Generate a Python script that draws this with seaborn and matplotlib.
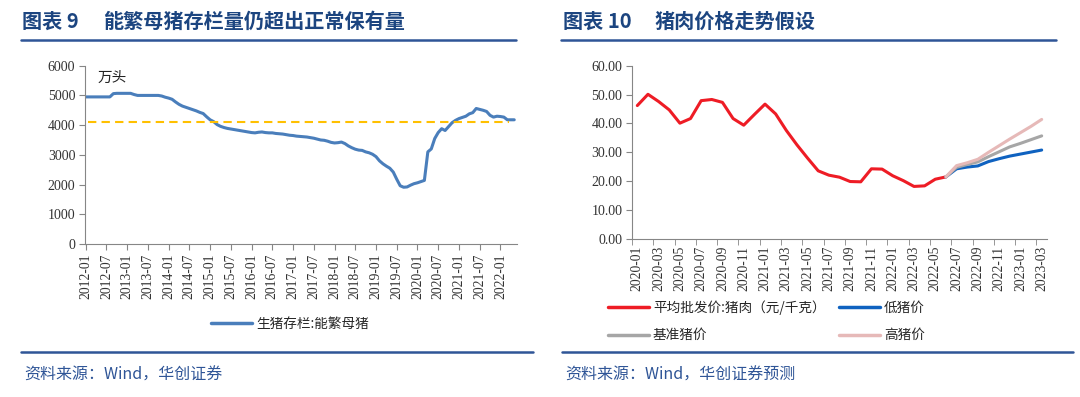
import numpy as np
import pandas as pd
import seaborn as sns
import matplotlib.pyplot as plt
import matplotlib.lines as mlines

# 能繁母猪存栏 (万头), 月度 2012-01 ~ 2022-05
sow_stock = [
    4950, 4950, 4950, 4950, 4950, 4950, 4950, 4950, 5060, 5070, 5070, 5070,
    5070, 5070, 5030, 5000, 5000, 5000, 5000, 5000, 5000, 5000, 4980, 4940,
    4910, 4870, 4780, 4700, 4640, 4600, 4560, 4520, 4480, 4430, 4390, 4280,
    4180, 4120, 4020, 3960, 3920, 3890, 3870, 3850, 3830, 3810, 3790, 3770,
    3750, 3740, 3760, 3770, 3750, 3740, 3740, 3720, 3710, 3700, 3680, 3660,
    3650, 3630, 3620, 3610, 3600, 3580, 3560, 3530, 3500, 3490, 3460, 3420,
    3400, 3410, 3430, 3380, 3300, 3240, 3190, 3160, 3150, 3100, 3070, 3020,
    2940, 2800, 2700, 2620, 2550, 2420, 2180, 1960, 1910, 1920, 1980, 2030,
    2060, 2100, 2140, 3100, 3200, 3550, 3750, 3880, 3820, 3950, 4080, 4160,
    4220, 4260, 4300, 4380, 4420, 4560, 4530, 4500, 4460, 4330, 4270, 4300,
    4290, 4270, 4180, 4180, 4180,
]
normal_level = 4100
sow_months = pd.date_range("2012-01-01", periods=len(sow_stock), freq="MS").strftime("%Y-%m")

# 猪肉价格 (元/千克), 2020-01 ~ 2023-03
price_months = pd.date_range("2020-01-01", "2023-03-01", freq="MS").strftime("%Y-%m")
pork_price = [46.2, 50.1, 47.6, 44.7, 40.1, 41.7, 47.9, 48.3, 47.3, 41.7,
              39.4, 43.1, 46.7, 43.3, 37.6, 32.6, 28.0, 23.6, 22.1, 21.4,
              19.9, 19.8, 24.3, 24.2, 21.9, 20.2, 18.2, 18.4, 20.7, 21.5]
low_price = [21.5, 24.3, 24.9, 25.3, 26.8, 27.8, 28.7, 29.4, 30.1, 30.8]
base_price = [21.5, 24.8, 25.8, 26.7, 28.5, 30.2, 31.9, 33.1, 34.4, 35.7]
high_price = [21.5, 25.4, 26.4, 27.6, 30.0, 32.3, 34.6, 36.8, 39.0, 41.4]

sns.set_style("ticks")
plt.rcParams["font.family"] = ["Noto Sans CJK SC", "DejaVu Sans"]

title_color = "#1c4580"
line_color = "#2f5597"
tick_font = {"family": "Liberation Serif"}

fig = plt.figure(figsize=(10.8, 3.97), dpi=100)
W, H = 1080, 397

# ---------- 左图 ----------
ax1 = fig.add_axes([85 / W, 1 - 244 / H, 432 / W, 178.3 / H])
df1 = pd.DataFrame({"idx": np.arange(len(sow_stock)), "val": sow_stock})
sns.lineplot(data=df1, x="idx", y="val", ax=ax1, color="#4a7ebb", linewidth=2.2)
ax1.plot([0.8, 122.5], [normal_level, normal_level], color="#ffc000",
         linewidth=1.5, linestyle=(0, (4, 2.5)))
ax1.set_xlim(-0.2, 124.8)
ax1.set_ylim(0, 6000)
ax1.set_yticks(range(0, 6001, 1000))
ax1.set_yticklabels([str(v) for v in range(0, 6001, 1000)], **tick_font, fontsize=10)
ticks1 = np.arange(0, len(sow_stock), 6)
ax1.set_xticks(ticks1)
ax1.set_xticklabels([sow_months[i] for i in ticks1], rotation=90, **tick_font, fontsize=9.8)
ax1.text(0.03, 0.93, "万头", transform=ax1.transAxes, fontsize=10.5, va="center", color="#222222")

# ---------- 右图 ----------
ax2 = fig.add_axes([632 / W, 1 - 239 / H, 415 / W, 173.3 / H])
n_hist = len(pork_price)
df_hist = pd.DataFrame({"idx": np.arange(n_hist), "val": pork_price})
proj_idx = np.arange(n_hist - 1, n_hist - 1 + len(low_price))
sns.lineplot(data=df_hist, x="idx", y="val", ax=ax2, color="#ee1c25", linewidth=2.2)
sns.lineplot(x=proj_idx, y=low_price, ax=ax2, color="#0f62c0", linewidth=2.2)
sns.lineplot(x=proj_idx, y=base_price, ax=ax2, color="#a6a6a6", linewidth=2.2)
sns.lineplot(x=proj_idx, y=high_price, ax=ax2, color="#e6b9b8", linewidth=2.2)
ax2.set_xlim(-0.5, len(price_months) - 0.5)
ax2.set_ylim(0, 60)
ax2.set_yticks(range(0, 61, 10))
ax2.set_yticklabels([f"{v:.2f}" for v in range(0, 61, 10)], **tick_font, fontsize=10)
ticks2 = np.arange(0, len(price_months), 2)
ax2.set_xticks(ticks2)
ax2.set_xticklabels([price_months[i] for i in ticks2], rotation=90, **tick_font, fontsize=9.8)
ax2.tick_params(axis="x", length=0, pad=5)
ax2.set_xticks(np.arange(-0.5, len(price_months), 2), minor=True)
ax2.tick_params(axis="x", which="minor", length=4, direction="out", color="#868686")

for ax in (ax1, ax2):
    sns.despine(ax=ax)
    ax.spines["left"].set_color("#868686")
    ax.spines["bottom"].set_color("#868686")
    ax.tick_params(axis="y", length=4, color="#868686", labelcolor="#333333", pad=3)
    ax.tick_params(axis="x", labelcolor="#333333")
    ax.set_xlabel("")
    ax.set_ylabel("")
ax1.tick_params(axis="x", length=4, color="#868686", pad=3)

# 图例
h1 = mlines.Line2D([], [], color="#4a7ebb", linewidth=2.5)
fig.legend([h1], ["生猪存栏:能繁母猪"], loc="center", bbox_to_anchor=(290 / W, 1 - 324 / H),
           frameon=False, fontsize=9.8, handlelength=3, handletextpad=0.3, borderpad=0)

hs = [mlines.Line2D([], [], color=c, linewidth=2.5) for c in
      ["#ee1c25", "#a6a6a6", "#0f62c0", "#e6b9b8"]]
labels = ["平均批发价:猪肉（元/千克）", "基准猪价", "低猪价", "高猪价"]
fig.legend(hs, labels, loc="upper left", bbox_to_anchor=(608 / W, 1 - 300 / H), ncol=2,
           frameon=False, fontsize=9.8, handlelength=3, handletextpad=0.3, borderpad=0,
           columnspacing=1.0, labelspacing=1.0, borderaxespad=0)

# 标题、分隔线、来源
fig.text(22 / W, 1 - 21 / H, "图表 9", fontsize=14.5, fontweight="bold", color=title_color, va="center")
fig.text(103 / W, 1 - 21 / H, "能繁母猪存栏量仍超出正常保有量", fontsize=14.5, fontweight="bold",
         color=title_color, va="center")
fig.text(563 / W, 1 - 21 / H, "图表 10", fontsize=14.5, fontweight="bold", color=title_color, va="center")
fig.text(655 / W, 1 - 21 / H, "猪肉价格走势假设", fontsize=14.5, fontweight="bold",
         color=title_color, va="center")

for x0, x1, y in [(21, 516, 40), (561, 1056, 40), (21, 533, 352), (562, 1073, 352)]:
    fig.add_artist(mlines.Line2D([x0 / W, x1 / W], [1 - y / H, 1 - y / H], color=line_color, linewidth=1.8))

fig.text(24 / W, 1 - 375 / H, "资料来源：Wind，华创证券", fontsize=11.5, color=line_color,
         va="center", style="italic")
fig.text(565 / W, 1 - 375 / H, "资料来源：Wind，华创证券预测", fontsize=11.5, color=line_color,
         va="center", style="italic")

fig.savefig("out.png", dpi=100)
